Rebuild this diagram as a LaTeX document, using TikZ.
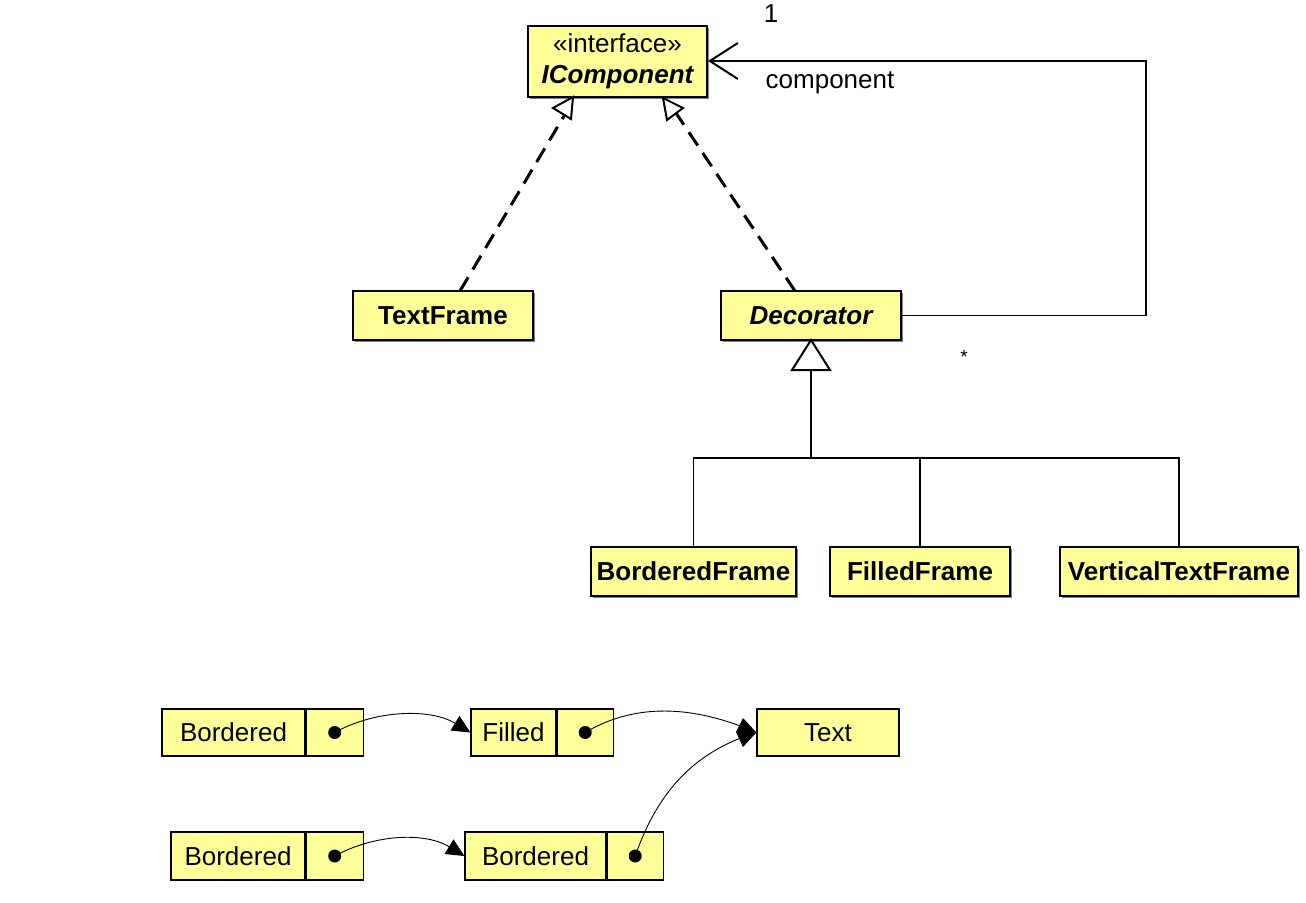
\documentclass[tikz,border=0pt]{standalone}
\usepackage{fontspec}
\setmainfont{Liberation Sans}
\usetikzlibrary{arrows.meta,shadows}
\definecolor{uyellow}{RGB}{255,255,153}
\tikzset{
  cls/.style={draw=black, line width=2pt, fill=uyellow, inner sep=0pt,
    drop shadow={shadow xshift=2pt,shadow yshift=-2pt,opacity=0.7,fill=black!70},
    font=\fontsize{26}{31}\selectfont\bfseries},
  obj/.style={draw=black, line width=1.2pt, fill=uyellow, inner sep=0pt,
    font=\fontsize{26}{30}\selectfont},
  rel/.style={line width=1.4pt},
  real/.style={line width=3pt, dash pattern=on 16pt off 9pt},
  hollow/.style={draw=black, line width=2pt, fill=white, line join=miter},
  ptr/.style={line width=0.9pt},
  lbl/.style={font=\fontsize{26}{30}\selectfont, inner sep=0pt}
}
\begin{document}
\begin{tikzpicture}[x=1pt,y=-1pt]
\useasboundingbox (0,0) rectangle (1306,902);

% class diagram
\node[cls, minimum width=179pt, minimum height=71pt, align=center] (icomp) at (617.5,61.5)
  {\mdseries «interface»\\[0pt]\itshape\bfseries IComponent};
\node[cls, minimum width=180pt, minimum height=49pt] (textframe) at (443,315.5) {TextFrame};
\node[cls, minimum width=180pt, minimum height=49pt] (decorator) at (811,315.5) {\itshape Decorator};
\node[cls, minimum width=205pt, minimum height=49pt] (bordered) at (693.5,571.5) {BorderedFrame};
\node[cls, minimum width=180pt, minimum height=49pt] (filled) at (920,571.5) {FilledFrame};
\node[cls, minimum width=238pt, minimum height=49pt] (vertical) at (1179,571.5) {VerticalTextFrame};

% association Decorator -> IComponent
\coordinate (c1) at (1146,315.5);
\coordinate (c2) at (1146,61);
\draw[rel, -{Straight Barb[length=28pt,width=36pt,line width=2pt]}]
  (decorator.east) -- (c1) -- (c2) -- (icomp.east |- c2);
\node[lbl] (one) at (771,14) {1};
\node[lbl] (role) at (830,83) {component};
\node[lbl, font=\fontsize{19}{20}\selectfont] (star) at (964,357) {*};

% realizations
\coordinate (r1a) at (460,291);
\coordinate (r1b) at (564,116);
\coordinate (r2a) at (795,291);
\coordinate (r2b) at (676,113);
\draw[real] (r1a) -- (r1b);
\draw[real] (r2a) -- (r2b);
\draw[hollow] (573,97) -- (571,119) -- (553,108) -- cycle;
\draw[hollow] (663,98) -- (667,120) -- (683,108) -- cycle;

% generalization
\coordinate (gtip) at (811,340);
\coordinate (gbase) at (811,370);
\coordinate (gj) at (811,458);
\draw[hollow] (gtip) -- (830,370) -- (792,370) -- cycle;
\draw[rel] (gbase) -- (gj);
\draw[rel] (bordered.north) -- (bordered.north |- gj) -- (vertical.north |- gj) -- (vertical.north);
\draw[rel] (filled.north) -- (filled.north |- gj);

% object diagram
\node[obj, minimum width=143pt, minimum height=47pt] (o1) at (233.5,732.5) {Bordered};
\node[obj, minimum width=57pt, minimum height=47pt, anchor=west] (o1p) at (o1.east) {};
\node[obj, minimum width=85pt, minimum height=47pt] (o2) at (513.5,732.5) {Filled};
\node[obj, minimum width=56pt, minimum height=47pt, anchor=west] (o2p) at (o2.east) {};
\node[obj, minimum width=142pt, minimum height=47pt] (o3) at (828,732.5) {Text};
\node[obj, minimum width=134pt, minimum height=48pt] (o4) at (238,856) {Bordered};
\node[obj, minimum width=57pt, minimum height=48pt, anchor=west] (o4p) at (o4.east) {};
\node[obj, minimum width=141pt, minimum height=48pt] (o5) at (535.5,856) {Bordered};
\node[obj, minimum width=56pt, minimum height=48pt, anchor=west] (o5p) at (o5.east) {};

\foreach \n in {o1p,o2p,o4p,o5p} \fill (\n.center) circle (6.5pt);

\draw[ptr, -{Triangle[length=18pt,width=17pt]}]
  (o1p.center) .. controls (375,710) and (430,708) .. (o2.west);
\draw[ptr, -{Triangle[length=18pt,width=17pt]}]
  (o4p.center) .. controls (375,834) and (425,832) .. (o5.west);
\draw[ptr]
  (o5p.center) .. controls (660,785) and (700,750) .. (o3.west);
\draw[ptr]
  (o2p.center) .. controls (640,700) and (700,708) .. (o3.west);
\fill (o3.west) -- (743,718) -- (736,732) -- (743,747) -- cycle;
\end{tikzpicture}
\end{document}
